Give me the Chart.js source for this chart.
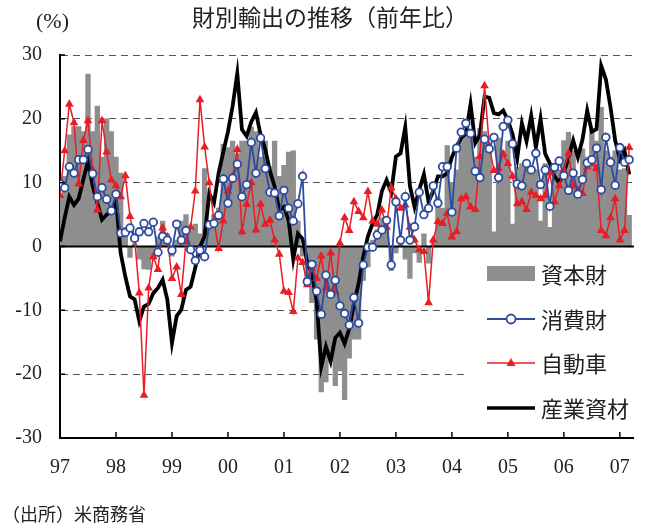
<!DOCTYPE html>
<html>
<head>
<meta charset="utf-8">
<script src="https://cdn.jsdelivr.net/npm/chart.js@4.4.1/dist/chart.umd.min.js"></script>
<style>
  html, body { margin: 0; padding: 0; background: #fff; }
</style>
</head>
<body>
<canvas id="chart" width="648" height="528"></canvas>
<script>
const chartTitle = "財別輸出の推移（前年比）";
const unitLabel = "(%)";
const sourceNote = "（出所）米商務省";
const seriesNames = ["資本財", "消費財", "自動車", "産業資材"];
const yearLabels = ["97", "98", "99", "00", "01", "02", "03", "04", "05", "06", "07"];
const yTicks = [30, 20, 10, 0, -10, -20, -30];

// monthly, Jan 1997 - Mar 2007
const capitalGoods = [
  8, 11, 17.5, 18.8, 18.8, 18, 27, 18, 22, 14, 20, 18,
  14, 11.5, 3, -1.7, 0.5, -2, -3.5, -3.6, -2, 1.5, 4, 2,
  -1.5, 1, 4, 5, 2.5, 3.5, 2, 12.2, 3.5, 5, 6, 16,
  15.5, 16.5, 14.5, 16.5, 16.5, 18.7, 18, 14, 16.5, 12.5, 16.5, 11,
  12.7, 14.8, 15, 4, -1.5, -5.7, -8.8, -14.5, -22.8, -21.2, -18, -21.8,
  -19.5, -24, -17.5, -14.5, -14.5, -5.3, -3.2, 1, 2.6, 4.5, 3, -3.8,
  -1, 1, -2, -5, -1, -2.5, 2, -2.6, 1, 7.8, 6, 15.8,
  10, 12, 16.8, 17.5, 17, 14, 18.5, 18, 15, 2.3, 17, 15,
  16.5, 3.5, 12.4, 13, 13.5, 12, 12, 4, 13, 3, 13, 12,
  16.6, 17.9, 15, 11, 15.3, 14, 18.4, 16.5, 21.8, 15, 14, 15,
  12, 12.2, 4.9
];
const consumerGoods = [
  9.8, 9.2, 12.5, 11.5, 13.6, 13.6, 15.2, 11.4, 7.8, 9.2, 7.4, 5.6,
  8.2, 2.1, 2.2, 2.9, 1.3, 2.3, 3.6, 2.3, 3.8, -0.9, 1.6, 1.0,
  -0.6, 3.5, 1.0, 2.5, -0.5, -2.2, -0.6, -1.6, 3.4, 3.6, 4.9, 10.6,
  6.8, 10.7, 12.9, 7.8, 9.7, 16.3, 11.5, 17.0, 12.2, 8.5, 8.4, 4.8,
  8.8, 6.0, 4.0, 6.7, 11.0, -5.5, -2.8, -7.0, -10.6, -4.5, -7.5, -5.3,
  -9.3, -10.5, -12.3, -8.0, -12.0, -2.9, -0.1, -0.1, 1.8, 2.6, 4.1, -2.9,
  7.0, 1.0, 7.8, 1.0, 3.1, 8.5, 5.0, 6.0, 9.5, 6.8, 12.5, 12.5,
  5.4, 15.4, 17.9, 19.3, 17.7, 11.8, 10.8, 16.8, 15.3, 17.1, 10.8, 18.8,
  19.8, 16.1, 9.8, 9.5, 13.0, 12.0, 14.6, 9.7, 12.0, 6.3, 12.4, 13.4,
  11.1, 8.8, 11.5, 8.2, 10.5, 13.1, 13.6, 15.4, 8.9, 17.1, 13.2, 9.6,
  15.5, 13.2, 13.6
];
const autos = [
  8.0, 15, 22.3, 19.4, 9.8, 16.6, 19.7, 12, 5.7, 19.7, 14.8, 10.4,
  9.5, 7.8, 11.1, 4.7, 1.2, -7.3, -23.3, -6.5, -1.6, -3.6, 2.9, 1.5,
  -5, -3.2, -7.5, 0.8, 3, 8.7, 23, 15.6, 10, 4, -0.3, 4,
  8.7, 11, 15.2, 2.3, 6.6, 10, 2.6, 6.6, 3.5, 4.1, 1.0, -1.2,
  -7, -7.2, -10.2, -1.8, -2.5, -6.0, -3.5, -5.0, -1.5, -6.5, -1.0, -7.0,
  0.5, 4.5, 2.5, 7.0, 5.5, 4.5, 8.6, 4.0, 3.5, 5.7, 3.0, 9.2,
  7.5, 6.0, 6.5, 3, 1, -0.5, -0.8, -8.8, 1.0, 3.9, 3.6, 5.2,
  1.5, 2.3, 7.5, 7.8, 6.2, 5.8, 14.1, 25.2, 15.8, 11.9, 12.2, 14.5,
  13, 11.0, 6.7, 7.0, 5.8, 8.5, 8.0, 7.5, 8.0, 11.5, 7.0, 9.5,
  12, 14.6, 9.5, 8.8, 8.3, 12.5, 13, 12.2, 2.5, 1.7, 4.5, 7.5,
  1.0, 2.5, 15.5
];
const industrialSupplies = [
  0.8, 4.5, 7.8, 6.5, 7.5, 10.5, 13.3, 9.5, 6.8, 4.2, 5.0, 5.5,
  7.3, -1.0, -4.7, -7.8, -8.3, -11.7, -9.4, -9.0, -7.3, -6.5, -5.2, -8.3,
  -15.1, -10.9, -9.9, -6.8, -6.3, -3.3, 0, 1.6, 8.3, 6.8, 11.5, 14.8,
  18, 22, 27.1, 18.3, 17.3, 19.5, 21, 17.5, 15.2, 11.8, 9.4, 5.7,
  6.2, 4.1, -2.0, 2.0, 1.2, -2.5, -4.2, -8.5, -18.8, -15.7, -18.0, -14.3,
  -13.5, -15.2, -12.9, -9.0, -5.8, -1.6, 1.6, 3.6, 5.0, 8.7, 10.4, 8.5,
  14.1, 14.6, 18.7, 9.5, 6.2, 8.9, 11.3, 7.0, 8.7, 11.0, 11.0, 11.5,
  14.0, 15.7, 17.0, 17.7, 22.3, 16.2, 17.5, 23.5, 23.3, 20.9, 20.7, 21.3,
  19.8, 17.6, 13.8, 19.3, 16.5, 20.5, 15.5, 20, 14.5, 13, 11, 10,
  11.5, 14, 16.6, 14, 16.8, 21.3, 18, 18.4, 28.3, 26.2, 21.8, 16.6,
  13.7, 15, 11.3
];

const fontSerif = '"Liberation Serif", "DejaVu Serif", serif';
const fontJP = '"Noto Sans CJK JP", sans-serif';
const toPoints = arr => arr.map((v, i) => ({ x: i, y: v }));

const GRAY = "#8e8e8e";
const BLUE = "#2d4b9f";
const RED = "#ea1c24";

// zero line over the bars
const zeroLine = {
  id: "zeroLine",
  afterDatasetDraw(chart, args) {
    if (args.index !== 0) return;
    const { ctx, chartArea } = chart;
    const y = chart.scales.y.getPixelForValue(0);
    ctx.save();
    ctx.strokeStyle = "#000";
    ctx.lineWidth = 2;
    ctx.beginPath();
    ctx.moveTo(chartArea.left, y);
    ctx.lineTo(chartArea.right, y);
    ctx.stroke();
    ctx.restore();
  }
};

// short tick marks pointing into the plot
const innerTicks = {
  id: "innerTicks",
  afterDraw(chart) {
    const { ctx, chartArea, scales } = chart;
    ctx.save();
    ctx.strokeStyle = "#000";
    ctx.lineWidth = 1.5;
    ctx.beginPath();
    scales.y.ticks.forEach(t => {
      const y = scales.y.getPixelForValue(t.value);
      ctx.moveTo(chartArea.left, y);
      ctx.lineTo(chartArea.left + 5, y);
    });
    scales.x.ticks.forEach(t => {
      const x = scales.x.getPixelForValue(t.value);
      ctx.moveTo(x, chartArea.bottom);
      ctx.lineTo(x, chartArea.bottom - 6);
    });
    ctx.stroke();
    ctx.restore();
  }
};

const boxLegend = {
  id: "boxLegend",
  beforeDatasetsDraw(chart) {
    const ctx = chart.ctx;
    ctx.save();
    ctx.fillStyle = "#fff";
    ctx.fillRect(466, 255, 178, 177);
    ctx.restore();
  },
  afterDraw(chart) {
    const ctx = chart.ctx;
    const rows = [274, 319, 363, 408];
    const x0 = 487, x1 = 535, xm = 511;
    ctx.save();
    // 資本財
    ctx.fillStyle = GRAY;
    ctx.fillRect(x0, rows[0] - 8, x1 - x0, 15);
    // 消費財
    ctx.strokeStyle = BLUE;
    ctx.lineWidth = 1.8;
    ctx.beginPath(); ctx.moveTo(x0, rows[1]); ctx.lineTo(x1, rows[1]); ctx.stroke();
    ctx.fillStyle = "#fff";
    ctx.beginPath(); ctx.arc(xm, rows[1], 4.5, 0, Math.PI * 2); ctx.fill(); ctx.stroke();
    // 自動車
    ctx.strokeStyle = RED;
    ctx.fillStyle = RED;
    ctx.lineWidth = 1.5;
    ctx.beginPath(); ctx.moveTo(x0, rows[2]); ctx.lineTo(x1, rows[2]); ctx.stroke();
    ctx.beginPath();
    ctx.moveTo(xm, rows[2] - 5); ctx.lineTo(xm + 4.5, rows[2] + 3); ctx.lineTo(xm - 4.5, rows[2] + 3);
    ctx.closePath(); ctx.fill();
    // 産業資材
    ctx.strokeStyle = "#000";
    ctx.lineWidth = 3.5;
    ctx.beginPath(); ctx.moveTo(x0, rows[3]); ctx.lineTo(x1, rows[3]); ctx.stroke();

    ctx.fillStyle = "#222";
    ctx.font = "22px " + fontJP;
    ctx.textAlign = "left";
    ctx.textBaseline = "middle";
    seriesNames.forEach((name, k) => ctx.fillText(name, 541, rows[k] + 1));
    ctx.restore();
  }
};

const texts = {
  id: "texts",
  afterDraw(chart) {
    const ctx = chart.ctx;
    ctx.save();
    ctx.fillStyle = "#222";
    ctx.textBaseline = "middle";
    ctx.textAlign = "center";
    ctx.font = "23px " + fontJP;
    ctx.fillText(chartTitle, 330, 17);
    ctx.textAlign = "left";
    ctx.font = "22px " + fontSerif;
    ctx.fillText(unitLabel, 36, 22);
    ctx.font = "18px " + fontJP;
    ctx.fillText(sourceNote, 2, 514);
    ctx.restore();
  }
};

new Chart(document.getElementById("chart"), {
  type: "bar",
  data: {
    datasets: [
      {
        type: "bar",
        label: seriesNames[0],
        data: toPoints(capitalGoods),
        backgroundColor: GRAY,
        borderWidth: 0,
        barPercentage: 1,
        categoryPercentage: 1,
        order: 4,
      },
      {
        type: "line",
        label: seriesNames[1],
        data: toPoints(consumerGoods),
        borderColor: BLUE,
        borderWidth: 1.8,
        pointStyle: "circle",
        pointRadius: 3.8,
        pointBorderWidth: 1.8,
        pointBackgroundColor: "#fff",
        pointBorderColor: BLUE,
        order: 1,
      },
      {
        type: "line",
        label: seriesNames[2],
        data: toPoints(autos),
        borderColor: RED,
        borderWidth: 1.5,
        pointStyle: "triangle",
        pointRadius: 5,
        pointBorderWidth: 0,
        pointBackgroundColor: RED,
        pointBorderColor: RED,
        order: 2,
      },
      {
        type: "line",
        label: seriesNames[3],
        data: toPoints(industrialSupplies),
        borderColor: "#000",
        borderWidth: 3.8,
        pointRadius: 0,
        order: 3,
      },
    ],
  },
  options: {
    responsive: false,
    animation: false,
    devicePixelRatio: 1,
    layout: { padding: { top: 55, right: 3, left: 0, bottom: 0 } },
    plugins: {
      legend: { display: false },
      tooltip: { enabled: false },
    },
    scales: {
      x: {
        type: "linear",
        min: 0,
        max: 123,
        offset: false,
        afterBuildTicks: s => { s.ticks = yearLabels.map((_, k) => ({ value: k * 12 })); },
        afterFit: s => { s.height = 90; },
        grid: { display: false, drawTicks: false, offset: false },
        border: { display: true, color: "#000", width: 2 },
        ticks: {
          autoSkip: false,
          maxRotation: 0,
          padding: 18,
          color: "#222",
          font: { family: fontSerif, size: 20 },
          callback: v => yearLabels[v / 12] ?? "",
        },
      },
      y: {
        min: -30,
        max: 30,
        afterBuildTicks: s => { s.ticks = yTicks.map(v => ({ value: v })); },
        afterFit: s => { s.width = 60; },
        grid: {
          drawTicks: false,
          color: c => (c.tick && (c.tick.value === 0 || c.tick.value === -30)) ? "rgba(0,0,0,0)" : "#555",
          lineWidth: 1,
        },
        border: { display: true, color: "#000", width: 2, dash: [7, 5] },
        ticks: {
          padding: 18,
          color: "#222",
          font: { family: fontSerif, size: 20 },
        },
      },
    },
  },
  plugins: [zeroLine, boxLegend, innerTicks, texts],
});
</script>
</body>
</html>
